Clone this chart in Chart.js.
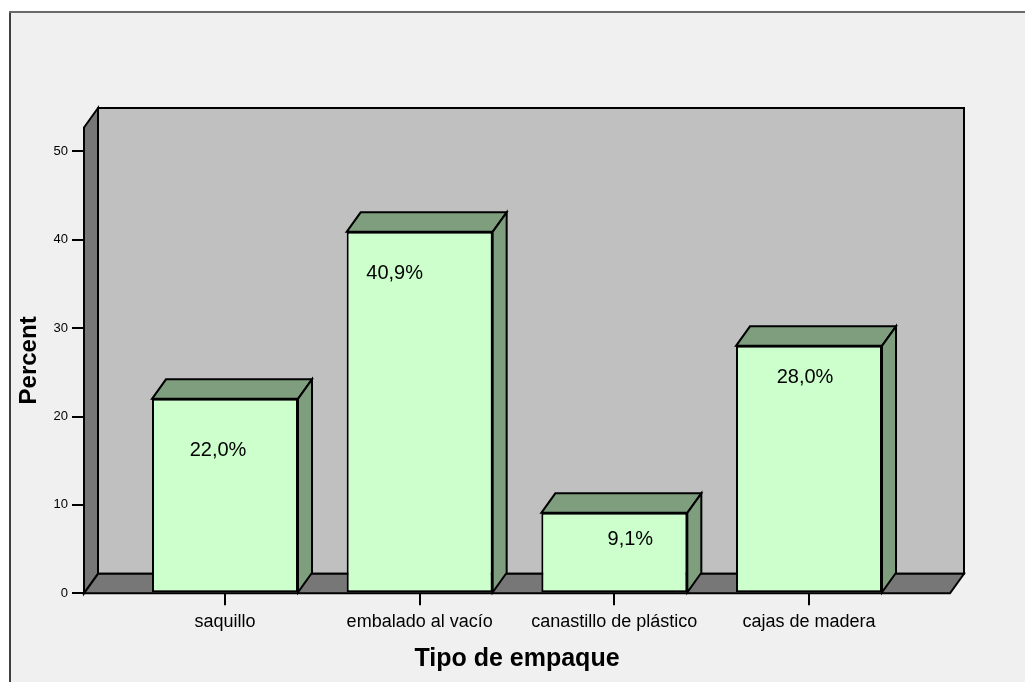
<!DOCTYPE html>
<html>
<head>
<meta charset="utf-8">
<title>Tipo de empaque</title>
<script src="https://cdn.jsdelivr.net/npm/chart.js@4/dist/chart.umd.min.js"></script>
<style>
  html, body { margin: 0; padding: 0; background: #fff; }
  #empaqueChart { display: block; }
</style>
</head>
<body>
<canvas id="empaqueChart" width="1025" height="682"></canvas>
<script>
// Packaging type shares (percent)
const categories = ['saquillo', 'embalado al vacío', 'canastillo de plástico', 'cajas de madera'];
const percents = [22.0, 40.9, 9.1, 28.0];
const yTicks = [0, 10, 20, 30, 40, 50];

// depth of the 3D extrusion, in pixels
const DX = 14;
const DY = 19.5;

// where each value label sits, relative to the top-centre of its bar
const labelOffsets = [[-7, 52], [-25, 42], [16, 27], [-4, 32]];

function fmtPct(v) {
  return v.toFixed(1).replace('.', ',') + '%';
}

function poly(ctx, pts, fill) {
  ctx.beginPath();
  ctx.moveTo(pts[0][0], pts[0][1]);
  for (let i = 1; i < pts.length; i++) ctx.lineTo(pts[i][0], pts[i][1]);
  ctx.closePath();
  ctx.fillStyle = fill;
  ctx.fill();
  ctx.stroke();
}

// page frame + back wall, side wall and floor
const walls3d = {
  id: 'walls3d',
  beforeDraw(chart) {
    const ctx = chart.ctx;
    ctx.save();
    ctx.fillStyle = '#ffffff';
    ctx.fillRect(0, 0, chart.width, chart.height);
    ctx.fillStyle = '#f0f0f0';
    ctx.fillRect(10, 12, chart.width - 10, chart.height - 12);
    ctx.fillStyle = '#404040';
    ctx.fillRect(9, 11, 2, chart.height - 11);
    ctx.fillStyle = '#6a6a6a';
    ctx.fillRect(9, 11, chart.width - 9, 2);
    ctx.restore();
  },
  beforeDatasetsDraw(chart) {
    const { ctx, chartArea: a } = chart;
    ctx.save();
    ctx.lineWidth = 2;
    ctx.strokeStyle = '#000';
    poly(ctx, [[a.left + DX, a.top - DY], [a.right + DX, a.top - DY], [a.right + DX, a.bottom - DY], [a.left + DX, a.bottom - DY]], '#c0c0c0');
    poly(ctx, [[a.left, a.top], [a.left + DX, a.top - DY], [a.left + DX, a.bottom - DY], [a.left, a.bottom]], '#777777');
    poly(ctx, [[a.left, a.bottom], [a.left + DX, a.bottom - DY], [a.right + DX, a.bottom - DY], [a.right, a.bottom]], '#777777');
    ctx.restore();
  },
  afterDatasetsDraw(chart) {
    const ctx = chart.ctx;
    const meta = chart.getDatasetMeta(0);
    ctx.save();
    ctx.lineWidth = 2;
    ctx.strokeStyle = '#000';
    meta.data.forEach((bar, i) => {
      const l = bar.x - bar.width / 2;
      const r = bar.x + bar.width / 2;
      const t = bar.y;
      const b = bar.base;
      // top face
      poly(ctx, [[l, t], [l + DX, t - DY], [r + DX, t - DY], [r, t]], '#7e9e7e');
      // right side face
      poly(ctx, [[r, t], [r + DX, t - DY], [r + DX, b - DY], [r, b]], '#7e9e7e');

      // value label inside the bar
      const off = labelOffsets[i];
      ctx.fillStyle = '#000';
      ctx.font = '20px "Liberation Sans", Arial, sans-serif';
      ctx.textAlign = 'center';
      ctx.textBaseline = 'middle';
      ctx.fillText(fmtPct(percents[i]), bar.x + off[0], t + off[1]);
    });
    ctx.restore();
  }
};

Chart.defaults.font.family = '"Liberation Sans", Arial, sans-serif';
Chart.defaults.color = '#000';

const ctx = document.getElementById('empaqueChart').getContext('2d');
const empaqueChart = new Chart(ctx, {
  type: 'bar',
  data: {
    datasets: [{
      label: 'Percent',
      data: percents.map((v, i) => ({ x: i, y: v })),
      backgroundColor: '#ccffcc',
      borderColor: '#000',
      borderWidth: 2,
      borderSkipped: false,
      barPercentage: 0.75,
      categoryPercentage: 1
    }]
  },
  options: {
    responsive: false,
    animation: false,
    devicePixelRatio: 1,
    layout: { padding: { top: 127.5, right: 75, left: 0, bottom: 0 } },
    plugins: {
      legend: { display: false },
      tooltip: { enabled: false }
    },
    scales: {
      x: {
        type: 'linear',
        offset: false,
        min: -0.7243,
        max: 3.7243,
        afterBuildTicks: s => { s.ticks = categories.map((c, i) => ({ value: i })); },
        afterFit: s => { s.height = 88.7; },
        ticks: {
          callback: v => categories[v],
          font: { size: 18 },
          color: '#000',
          padding: 6,
          maxRotation: 0,
          autoSkip: false
        },
        grid: { offset: false, drawOnChartArea: false, drawTicks: true, tickLength: 12, color: '#000', lineWidth: 2 },
        border: { display: false },
        title: {
          display: true,
          text: 'Tipo de empaque',
          font: { size: 25, weight: 'bold' },
          color: '#000',
          padding: { top: 0, bottom: 8 }
        }
      },
      y: {
        min: 0,
        max: 52.7,
        afterBuildTicks: s => { s.ticks = yTicks.map(v => ({ value: v })); },
        afterFit: s => { s.width = 84; },
        ticks: { font: { size: 13 }, color: '#000', padding: 4 },
        grid: { drawOnChartArea: false, drawTicks: true, tickLength: 12, color: '#000', lineWidth: 2 },
        border: { display: false },
        title: {
          display: true,
          text: 'Percent',
          font: { size: 24, weight: 'bold' },
          color: '#000',
          padding: { top: 15.4, bottom: 0 }
        }
      }
    }
  },
  plugins: [walls3d]
});
</script>
</body>
</html>
